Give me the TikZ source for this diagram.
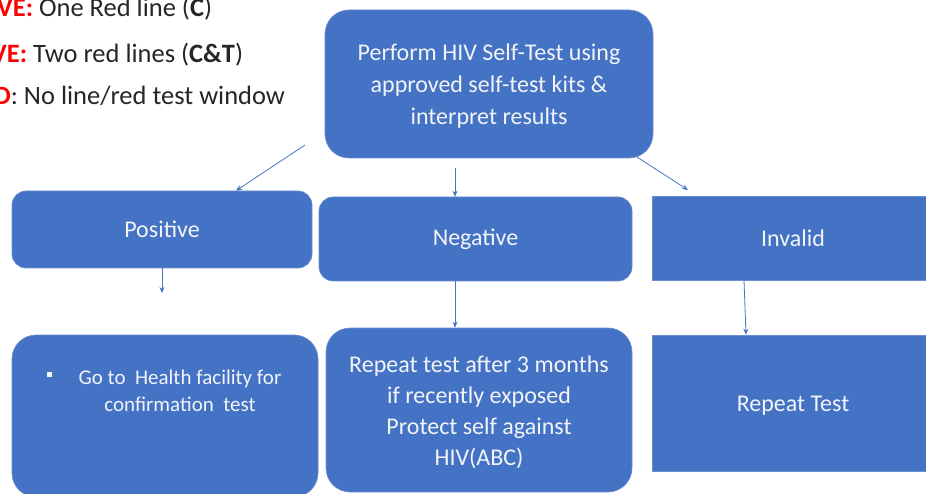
\documentclass[tikz,border=0pt]{standalone}
\usepackage{fontspec}
\setmainfont{Carlito}
\usetikzlibrary{arrows.meta}
\definecolor{boxblue}{HTML}{4472C4}
\definecolor{legendred}{HTML}{FF0000}
\definecolor{legendtxt}{HTML}{262626}
\definecolor{boxtext}{HTML}{F2F4F8}
\tikzset{
  flowbox/.style={fill=boxblue, draw=boxblue!80!white, line width=0.6pt, text=boxtext, align=center, inner sep=0pt},
  roundbox/.style={flowbox, rounded corners=#1},
  sharpbox/.style={flowbox},
  boxfont/.style={font=\fontsize{24}{32}\selectfont},
  smallfont/.style={font=\fontsize{21}{27.5}\selectfont},
  boxlabel/.style={text=boxtext, align=center, inner sep=0pt},
  legend/.style={anchor=base west, inner sep=0pt, text=legendtxt, font=\fontsize{26.5}{30}\selectfont},
  arr/.style={draw=boxblue, line width=0.8pt, -{Stealth[length=6pt,width=5pt]}}
}
\begin{document}
\begin{tikzpicture}[x=1pt,y=-1pt]
\useasboundingbox (0,0) rectangle (926,494);
\clip (0,0) rectangle (926,494);

% legend (cut off at the left edge, as in the reference)
\node[legend] (lg1) at (-3,17) {\textbf{\textcolor{legendred}{VE:}} One Red line (\textbf{C})};
\node[legend] (lg2) at (-9,63) {\textbf{\textcolor{legendred}{VE:}} Two red lines (\textbf{C\&T})};
\node[legend] (lg3) at (-6,105) {\textbf{\textcolor{legendred}{D}}: No line/red test window};

% boxes
\node[roundbox=24pt, minimum width=328pt, minimum height=148pt,
  label={[name=toptxt, boxlabel, boxfont, yshift=-2pt]center:Perform HIV Self-Test using\\approved self-test kits \&\\interpret results}] (top) at (489,84) {};
\node[roundbox=14pt, boxfont, minimum width=300pt, minimum height=77pt] (pos) at (162,229.5) {Positive};
\node[roundbox=14pt, boxfont, minimum width=313pt, minimum height=84pt] (neg) at (475.5,239) {Negative};
\node[sharpbox, boxfont, minimum width=282pt, minimum height=84pt] (inv) at (793,238) {Invalid};

\node[roundbox=24pt, minimum width=306pt, minimum height=162pt] (fac) at (165,416) {};
\node[boxlabel, smallfont] (factxt) at (180,391)
  {Go to\ \ Health facility for\\confirmation\ \ test};
\fill[boxtext] (46.5,371.5) rectangle (51.5,376.5);

\node[roundbox=24pt, minimum width=306pt, minimum height=164pt,
  label={[name=rep3txt, boxlabel, font=\fontsize{24}{31}\selectfont, yshift=-2pt]center:Repeat test after 3 months\\if recently exposed\\Protect self against\\HIV(ABC)}] (rep3) at (479,410) {};
\node[sharpbox, minimum width=282pt, minimum height=136pt,
  label={[name=repttxt, boxlabel, boxfont, yshift=-3pt]center:Repeat Test}] (rept) at (793,403) {};

% free ends of connectors
\coordinate (s1) at (305,145);
\coordinate (s2) at (455,168);
\coordinate (s3) at (637,157);
\coordinate (e3) at (688,190);
\coordinate (e4) at (162,293);

% connectors
\draw[arr] (s1) -- (pos.north -| 236,0);
\draw[arr] (s2) -- (neg.north -| 455,0);
\draw[arr] (s3) -- (e3);
\draw[arr] (pos.south) -- (e4);
\draw[arr] (neg.south -| 455,0) -- (rep3.north -| 455,0);
\draw[arr] (inv.south -| 744,0) -- (rept.north -| 746,0);
\end{tikzpicture}
\end{document}
